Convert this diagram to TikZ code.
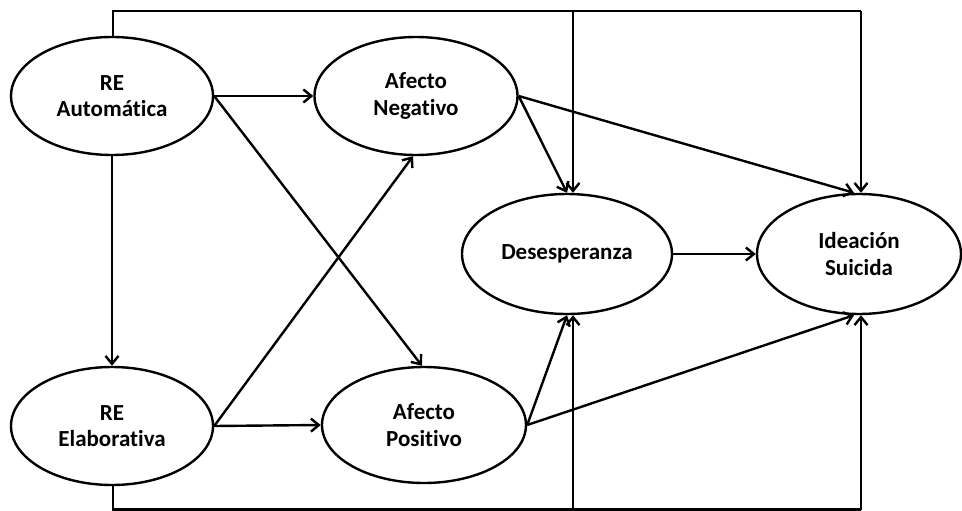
\documentclass[tikz,border=0pt]{standalone}
\usepackage{fontspec}
\setmainfont{Carlito}[Ligatures={NoCommon}]
\usetikzlibrary{arrows.meta,shapes.geometric}
\begin{document}
\begin{tikzpicture}[x=1pt,y=-1pt,
  var/.style={draw=black,line width=2.4pt,ellipse,inner sep=0pt,align=center,
    font=\fontsize{23}{26.5}\selectfont\bfseries,text=black},
  arr/.style={line width=2.4pt,-{Straight Barb[length=8pt,width=13pt,line width=2.4pt]}},
  ln/.style={line width=2.4pt}]
\useasboundingbox (0,0) rectangle (962,511);
\node[var,minimum width=202pt,minimum height=118pt] (ra) at (112,96) {RE\\Automática};
\node[var,minimum width=202pt,minimum height=118pt] (re) at (112,426) {RE\\Elaborativa};
\node[var,minimum width=203pt,minimum height=118pt] (an) at (416,96) {Afecto\\Negativo};
\node[var,minimum width=204pt,minimum height=116pt] (ap) at (424,425) {Afecto\\Positivo};
\node[var,minimum width=210pt,minimum height=120pt] (de) at (567,254) {Desesperanza};
\node[var,minimum width=204pt,minimum height=120pt] (is) at (859,254) {Ideación\\Suicida};
\coordinate (t0) at (113,11);
\coordinate (t1) at (573,11);
\coordinate (t2) at (861,11);
\coordinate (b0) at (113,509.5);
\coordinate (b1) at (573,509.5);
\coordinate (b2) at (861,509.5);
% top routing
\draw[ln] (ra.north -| t0) -- (t0) -- (t2);
\draw[arr] (t1) -- (t1 |- de.north);
\draw[arr] (t2) -- (t2 |- is.north);
% bottom routing
\draw[ln] (re.south -| b0) -- (b0) -- (b2);
\draw[arr] (b1) -- (b1 |- de.south);
\draw[arr] (b2) -- (b2 |- is.south);
% paths
\draw[arr] (ra.south) -- (re.north);
\draw[arr] (ra.east) -- (an.west);
\draw[arr] (ra.east) -- ([xshift=-2pt]ap.north);
\draw[arr] (re.east) -- (ap.west);
\draw[arr] (re.east) -- ([xshift=-3pt]an.south);
\draw[arr] (an.east) -- (de.north);
\draw[arr] (an.east) -- ([xshift=-5pt]is.north);
\draw[arr] (ap.east) -- (de.south);
\draw[arr] (ap.east) -- ([xshift=-5pt]is.south);
\draw[arr] (de.east) -- (is.west);
\end{tikzpicture}
\end{document}
